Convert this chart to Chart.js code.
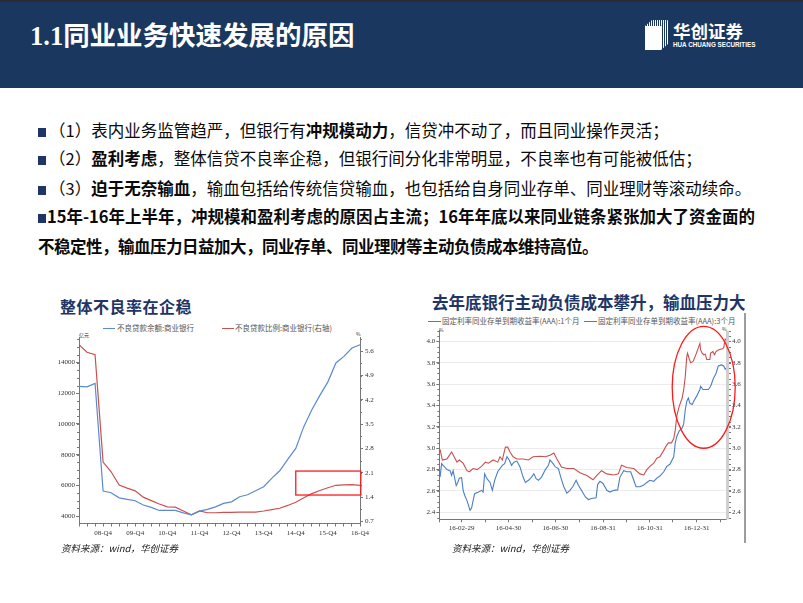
<!DOCTYPE html>
<html><head><meta charset="utf-8">
<script src="https://cdn.jsdelivr.net/npm/chart.js@4.4.1/dist/chart.umd.min.js"></script>
<style>
body{margin:0;width:803px;height:603px;position:relative;overflow:hidden;background:#fff;font-family:"Noto Sans CJK SC","Noto Sans",sans-serif;}
.t{position:absolute;white-space:nowrap;line-height:1;}
#hdr{position:absolute;left:0;top:0;width:803px;height:88px;background:#1a3760;}
#hdrTop{position:absolute;left:0;top:0;width:803px;height:2px;background:#2c2c34;}
.ln{position:absolute;left:38px;font-size:16.5px;line-height:16px;color:#0a0a0a;white-space:nowrap;}
.ln b{font-weight:700;}
.sq{display:inline-block;width:8px;height:9px;background:#1f3566;margin-right:3px;vertical-align:0px;}
.ctitle{position:absolute;font-size:16px;font-weight:700;color:#1f3566;white-space:nowrap;line-height:1;}
.lg{position:absolute;font-size:7.5px;color:#555;white-space:nowrap;line-height:1;}
.lgl{position:absolute;height:1px;}
.src{position:absolute;font-size:9.5px;font-style:italic;color:#1a1a1a;white-space:nowrap;line-height:1;}
.box{position:absolute;}
</style></head>
<body>
<div id="hdr"></div><div id="hdrTop"></div>
<div class="t" style="left:30px;top:21px;font-size:26.5px;font-weight:700;color:#fff;"><span style="font-family:'Liberation Serif',serif;">1.1</span>同业业务快速发展的原因</div>
<svg class="box" style="left:645px;top:20px" width="26" height="31" viewBox="0 0 26 31">
  <defs><pattern id="st" width="2" height="2" patternUnits="userSpaceOnUse"><rect width="1" height="2" fill="#fff"/></pattern></defs>
  <polygon points="0,6 7,0 23,0 16,6" fill="url(#st)"/>
  <polygon points="16,6 23,0 23,24 16,30" fill="url(#st)"/>
  <rect x="0" y="6" width="16" height="24" fill="#fff"/>
  <rect x="3" y="9" width="10" height="18" fill="url(#st)"/>
</svg>
<div class="t" style="left:673px;top:22px;font-size:17.5px;font-weight:700;color:#fff;">华创证券</div>
<div class="t" style="left:673px;top:42px;font-size:6.3px;font-weight:700;color:#fff;font-family:'Liberation Sans',sans-serif;">HUA CHUANG SECURITIES</div>

<div class="ln" style="top:122px"><span class="sq"></span>（1）表内业务监管趋严，但银行有<b>冲规模动力</b>，信贷冲不动了，而且同业操作灵活；</div>
<div class="ln" style="top:150px"><span class="sq"></span>（2）<b>盈利考虑</b>，整体信贷不良率企稳，但银行间分化非常明显，不良率也有可能被低估；</div>
<div class="ln" style="top:180px"><span class="sq"></span>（3）<b>迫于无奈输血</b>，输血包括给传统信贷输血，也包括给自身同业存单、同业理财等滚动续命。</div>
<div class="ln" style="top:208px;font-weight:700"><span class="sq" style="margin-right:1px"></span>15年-16年上半年，冲规模和盈利考虑的原因占主流；16年年底以来同业链条紧张加大了资金面的</div>
<div class="ln" style="top:238px;font-weight:700;letter-spacing:-0.5px">不稳定性，输血压力日益加大，同业存单、同业理财等主动负债成本维持高位。</div>

<div class="ctitle" style="left:60px;top:298px;letter-spacing:0.5px">整体不良率在企稳</div>
<div class="ctitle" style="left:432px;top:294px;font-size:16.5px">去年底银行主动负债成本攀升，输血压力大</div>

<div class="lgl" style="left:103px;top:328px;width:12px;background:#5a8ad0"></div>
<div class="lg" style="left:117px;top:324px">不良贷款余额:商业银行</div>
<div class="lgl" style="left:222px;top:328px;width:12px;background:#cc5050"></div>
<div class="lg" style="left:235px;top:324px">不良贷款比例:商业银行(右轴)</div>
<div class="lg" style="left:79px;top:332px;font-size:5px;color:#333">亿元</div>
<div class="lg" style="left:356px;top:331px;font-size:5px;color:#333">%</div>

<div class="lgl" style="left:428px;top:321px;width:13px;background:#4a7ec4"></div>
<div class="lg" style="left:442px;top:317px">固定利率同业存单到期收益率(AAA):1个月</div>
<div class="lgl" style="left:584px;top:321px;width:13px;background:#c8504d"></div>
<div class="lg" style="left:598px;top:317px">固定利率同业存单到期收益率(AAA):3个月</div>
<div class="lg" style="left:439px;top:327px;font-size:5px;color:#333">%</div>
<div class="lg" style="left:722px;top:326px;font-size:5px;color:#333">%</div>
<div class="box" style="left:744px;top:313px;width:2px;height:230px;background:#9c9c9c"></div>

<div class="box" style="left:40px;top:330px;width:345px;height:230px"><canvas id="c1"></canvas></div>
<div class="box" style="left:405px;top:325px;width:345px;height:235px"><canvas id="c2"></canvas></div>

<div class="src" style="left:61px;top:544px">资料来源：wind，华创证券</div>
<div class="src" style="left:452px;top:544px">资料来源：wind，华创证券</div>

<script>
// ---------- Left chart data ----------
const QUARTERS = ['08-Q1','08-Q2','08-Q3','08-Q4','09-Q1','09-Q2','09-Q3','09-Q4','10-Q1','10-Q2','10-Q3','10-Q4',
  '11-Q1','11-Q2','11-Q3','11-Q4','12-Q1','12-Q2','12-Q3','12-Q4','13-Q1','13-Q2','13-Q3','13-Q4',
  '14-Q1','14-Q2','14-Q3','14-Q4','15-Q1','15-Q2','15-Q3','15-Q4','16-Q1','16-Q2','16-Q3','16-Q4'];
const NPL_BALANCE = [12450,12420,12640,5630, 5520,5190,5090,5000, 4720,4570,4370,4370,
  4370,4215,4085,4325, 4435,4605,4830,4930, 5260,5390,5650,5910,
  6460,6950,7700,8410, 9825,10920,11860,12740, 13970,14400,14945,15160];
const NPL_RATIO = [5.79,5.57,5.50,2.41, 2.13,1.75,1.66,1.58, 1.40,1.30,1.20,1.12,
  1.11,1.00,0.89,1.00, 0.95,0.95,0.96,0.96, 0.97,0.97,0.97,1.00,
  1.04,1.08,1.16,1.25, 1.38,1.50,1.59,1.67, 1.74,1.75,1.76,1.74];
const SHOWN_QUARTERS = ['08-Q4','09-Q4','10-Q4','11-Q4','12-Q4','13-Q4','14-Q4','15-Q4','16-Q4'];
const BALANCE_TICKS = [4000,6000,8000,10000,12000,14000];
const RATIO_TICKS = [0.7,1.4,2.1,2.8,3.5,4.2,4.9,5.6];

// ---------- Right chart data ----------
const RATE_1M_DATES = ['16-02-01','16-02-03','16-02-05','16-02-10','16-02-14','16-02-16','16-02-18','16-02-22','16-02-24','16-02-26',
 '16-02-29','16-03-02','16-03-04','16-03-07','16-03-09','16-03-11','16-03-13','16-03-15','16-03-17','16-03-22',
 '16-03-26','16-03-28','16-03-30','16-04-02','16-04-06','16-04-09','16-04-12','16-04-16','16-04-19','16-04-22',
 '16-04-25','16-04-28','16-05-01','16-05-04','16-05-07','16-05-11','16-05-15','16-05-19','16-05-22','16-05-26',
 '16-05-30','16-06-02','16-06-05','16-06-08','16-06-12','16-06-17','16-06-21','16-06-23','16-06-27','16-06-30',
 '16-07-04','16-07-07','16-07-11','16-07-15','16-07-19','16-07-23','16-07-27','16-07-30','16-08-03','16-08-08',
 '16-08-12','16-08-16','16-08-22','16-08-24','16-08-27','16-08-31','16-09-05','16-09-09','16-09-14','16-09-19',
 '16-09-22','16-09-27','16-10-01','16-10-06','16-10-10','16-10-13','16-10-18','16-10-23','16-10-27','16-10-31',
 '16-11-05','16-11-09','16-11-13','16-11-18','16-11-22','16-11-26','16-12-01','16-12-03','16-12-05','16-12-08',
 '16-12-12','16-12-14','16-12-16','16-12-18','16-12-20','16-12-22','16-12-25','16-12-27','16-12-31','17-01-04',
 '17-01-05','17-01-08','17-01-11','17-01-15','17-01-18','17-01-22','17-01-25','17-01-28','17-02-01','17-02-04',
 '17-02-06','17-02-07'];
const RATE_1M = [2.73,2.856,2.84,2.80,2.79,2.745,2.79,2.65,2.68,2.72,
 2.725,2.606,2.56,2.51,2.465,2.42,2.44,2.51,2.575,2.59,
 2.606,2.59,2.76,2.715,2.68,2.606,2.70,2.78,2.81,2.84,
 2.856,2.92,2.89,2.84,2.87,2.88,2.825,2.73,2.68,2.70,
 2.73,2.76,2.715,2.70,2.73,2.80,2.84,2.89,2.856,2.825,
 2.81,2.73,2.64,2.58,2.606,2.644,2.70,2.653,2.606,2.544,
 2.52,2.53,2.537,2.66,2.69,2.67,2.606,2.59,2.606,2.61,
 2.73,2.79,2.78,2.78,2.70,2.64,2.64,2.656,2.68,2.70,
 2.69,2.72,2.74,2.78,2.83,2.85,2.92,3.05,3.11,3.16,
 3.19,3.23,3.36,3.44,3.47,3.42,3.41,3.44,3.49,3.55,
 3.58,3.55,3.55,3.55,3.58,3.66,3.70,3.77,3.78,3.77,
 3.74,3.75];
const RATE_3M_DATES = ['16-02-01','16-02-04','16-02-10','16-02-16','16-02-23','16-02-26','16-03-02','16-03-07','16-03-10','16-03-15',
 '16-03-20','16-03-26','16-03-31','16-04-04','16-04-10','16-04-16','16-04-19','16-04-22','16-04-26','16-04-29',
 '16-05-02','16-05-06','16-05-11','16-05-19','16-05-26','16-06-01','16-06-10','16-06-17','16-06-23','16-06-28',
 '16-07-02','16-07-08','16-07-15','16-07-24','16-08-01','16-08-10','16-08-18','16-08-23','16-08-29','16-09-05',
 '16-09-14','16-09-20','16-09-24','16-10-01','16-10-10','16-10-18','16-10-23','16-10-27','16-10-31','16-11-05',
 '16-11-09','16-11-13','16-11-18','16-11-21','16-11-24','16-11-28','16-12-01','16-12-03','16-12-05','16-12-08',
 '16-12-12','16-12-14','16-12-16','16-12-18','16-12-19','16-12-21','16-12-23','16-12-26','16-12-29','17-01-01',
 '17-01-04','17-01-05','17-01-07','17-01-09','17-01-11','17-01-13','17-01-17','17-01-18','17-01-21','17-01-23',
 '17-01-25','17-01-28','17-02-02','17-02-04','17-02-06','17-02-07'];
const RATE_3M = [2.99,2.89,2.90,2.965,2.87,2.89,2.86,2.79,2.78,2.81,
 2.80,2.83,2.87,2.86,2.89,2.87,2.92,2.89,3.01,3.01,
 2.965,2.92,2.90,2.90,2.89,2.92,2.925,2.92,2.935,2.955,
 2.90,2.825,2.81,2.81,2.77,2.745,2.705,2.745,2.79,2.76,
 2.75,2.76,2.84,2.82,2.81,2.76,2.75,2.80,2.83,2.86,
 2.906,2.92,2.98,3.02,3.05,3.05,3.09,3.17,3.30,3.39,
 3.47,3.55,3.67,3.86,3.89,3.84,3.80,3.81,3.86,3.92,
 3.98,3.92,3.89,3.875,3.88,3.83,3.83,3.89,3.905,3.875,
 3.905,3.92,3.93,3.94,4.02,4.015];
const MONTH_END_TICKS = ['16-01-31','16-02-29','16-03-31','16-04-30','16-05-31','16-06-30','16-07-31','16-08-31','16-09-30','16-10-31','16-11-30','16-12-31','17-01-31'];
const LABELED_DATES = ['16-02-29','16-04-30','16-06-30','16-08-31','16-10-31','16-12-31'];
const RATE_TICKS = [2.4,2.6,2.8,3.0,3.2,3.4,3.6,3.8,4.0];
const RANGE_START = '16-01-31', RANGE_END = '17-02-07';

// ---------- helpers ----------
const BASE = Date.UTC(2016,0,31);
function dayOf(s){const p=s.split('-').map(Number);return Math.round((Date.UTC(2000+p[0],p[1]-1,p[2])-BASE)/864e5);}
const zip = (ds,vs)=>ds.map((d,i)=>({x:dayOf(d),y:vs[i]}));

Chart.defaults.animation = false;
Chart.defaults.font.family = "'Liberation Serif', serif";
Chart.defaults.font.size = 7;
Chart.defaults.color = '#333';

const minorTicks = {
  id:'minorTicks',
  afterDraw(chart, args, opts){
    const ctx = chart.ctx;
    (opts.axes||[]).forEach(a=>{
      const s = chart.scales[a.id]; if(!s) return;
      ctx.save(); ctx.strokeStyle = a.color||'#666'; ctx.lineWidth = 1; ctx.beginPath();
      const k0 = Math.ceil(s.min/a.step-1e-9), k1 = Math.floor(s.max/a.step+1e-9);
      for(let k=k0;k<=k1;k++){
        const v = k*a.step;
        const p = Math.round(s.getPixelForValue(v))+0.5;
        if(s.axis==='y'){
          const left = s.position==='left';
          const x = left ? s.right : s.left;
          ctx.moveTo(x,p); ctx.lineTo(x+(left?-a.len:a.len),p);
        }
      }
      ctx.stroke(); ctx.restore();
    });
  }
};
const shapes = {
  id:'shapes',
  afterDraw(chart, args, opts){
    const ctx = chart.ctx;
    (opts.items||[]).forEach(it=>{
      const xs = chart.scales[it.xScale], ys = chart.scales[it.yScale];
      ctx.save(); ctx.strokeStyle = it.color; ctx.lineWidth = it.width;
      if(it.type==='strip'){
        ctx.fillStyle = it.color;
        ctx.fillRect(chart.chartArea.right, chart.chartArea.top, it.w, chart.chartArea.bottom-chart.chartArea.top);
      } else if(it.type==='rect'){
        const x1=xs.getPixelForValue(it.x1), x2=xs.getPixelForValue(it.x2);
        const y1=ys.getPixelForValue(it.y1), y2=ys.getPixelForValue(it.y2);
        ctx.strokeRect(x1,y1,x2-x1,y2-y1);
      } else if(it.type==='ellipse'){
        const cx=xs.getPixelForValue(it.cx), cy=ys.getPixelForValue(it.cy);
        const rx=Math.abs(xs.getPixelForValue(it.cx+it.rx)-cx), ry=Math.abs(ys.getPixelForValue(it.cy+it.ry)-cy);
        ctx.beginPath(); ctx.ellipse(cx,cy,rx,ry,0,0,Math.PI*2); ctx.stroke();
      }
      ctx.restore();
    });
  }
};

// ---------- Left chart ----------
new Chart(document.getElementById('c1'), {
  type:'line',
  data:{labels:QUARTERS, datasets:[
    {label:'不良贷款余额:商业银行', data:NPL_BALANCE, yAxisID:'y', borderColor:'#5a8ad0', borderWidth:1.2, pointRadius:0, tension:0},
    {label:'不良贷款比例:商业银行(右轴)', data:NPL_RATIO, yAxisID:'y1', borderColor:'#cc5050', borderWidth:1.2, pointRadius:0, tension:0}
  ]},
  options:{
    responsive:true, maintainAspectRatio:false,
    layout:{padding:{top:7,left:0,right:0,bottom:0}},
    plugins:{legend:{display:false}, tooltip:{enabled:false},
      minorTicks:{axes:[{id:'y',step:500,len:2,color:'#777'},{id:'y1',step:0.35,len:2,color:'#777'}]},
      shapes:{items:[{type:'rect',xScale:'x',yScale:'y1',x1:27,x2:35.1,y1:2.15,y2:1.46,color:'#ff1a1a',width:1.3}]}
    },
    scales:{
      x:{offset:false, afterFit:s=>{s.height=36.5;},
        grid:{display:true, drawOnChartArea:false, drawTicks:true, tickLength:3, tickColor:'#777', offset:false},
        border:{display:true,color:'#777'},
        ticks:{autoSkip:false, maxRotation:0, padding:2, callback:function(v){const l=this.getLabelForValue(v);return SHOWN_QUARTERS.includes(l)?l:'';}}},
      y:{position:'left', min:3520, max:15660, afterFit:s=>{s.width=39;},
        afterBuildTicks:s=>{s.ticks=BALANCE_TICKS.map(v=>({value:v}));},
        grid:{drawOnChartArea:false, tickLength:3, tickColor:'#777'}, border:{color:'#777'},
        ticks:{padding:1, callback:v=>String(v)}},
      y1:{position:'right', min:0.64, max:6.01, afterFit:s=>{s.width=25;},
        afterBuildTicks:s=>{s.ticks=RATIO_TICKS.map(v=>({value:v}));},
        grid:{drawOnChartArea:false, tickLength:3, tickColor:'#777'}, border:{color:'#777'},
        ticks:{padding:2, callback:v=>Number(v).toFixed(1)}}
    }
  },
  plugins:[minorTicks, shapes]
});

// ---------- Right chart ----------
const tickDays = MONTH_END_TICKS.map(dayOf);
const labelMap = {}; LABELED_DATES.forEach(d=>{labelMap[dayOf(d)]=d;});
new Chart(document.getElementById('c2'), {
  type:'line',
  data:{datasets:[
    {label:'固定利率同业存单到期收益率(AAA):1个月', data:zip(RATE_1M_DATES,RATE_1M), yAxisID:'y', borderColor:'#4a7ec4', borderWidth:1.1, pointRadius:0, tension:0},
    {label:'固定利率同业存单到期收益率(AAA):3个月', data:zip(RATE_3M_DATES,RATE_3M), yAxisID:'y', borderColor:'#c8504d', borderWidth:1.1, pointRadius:0, tension:0}
  ]},
  options:{
    responsive:true, maintainAspectRatio:false,
    layout:{padding:{top:5.7,left:0,right:0,bottom:0}},
    plugins:{legend:{display:false}, tooltip:{enabled:false},
      minorTicks:{axes:[{id:'y',step:0.05,len:2,color:'#777'},{id:'y2',step:0.05,len:5,color:'#777'}]},
      shapes:{items:[
        {type:'strip',w:3,color:'#cfcfcf'},
        {type:'ellipse',xScale:'x',yScale:'y',cx:dayOf('17-01-09'),cy:3.57,rx:41,ry:0.57,color:'#ff1a1a',width:1.3}
      ]}
    },
    scales:{
      x:{type:'linear', min:dayOf(RANGE_START), max:dayOf(RANGE_END), afterFit:s=>{s.height=40.7;},
        afterBuildTicks:s=>{s.ticks=tickDays.map(v=>({value:v}));},
        grid:{drawOnChartArea:false, tickLength:3, tickColor:'#777'}, border:{color:'#777'},
        ticks:{autoSkip:false, maxRotation:0, padding:2, callback:v=>labelMap[v]||''}},
      y:{position:'left', min:2.335, max:4.10, afterFit:s=>{s.width=34.3;},
        afterBuildTicks:s=>{s.ticks=RATE_TICKS.map(v=>({value:v}));},
        grid:{color:'#ececec', tickLength:3, tickColor:'#777'}, border:{color:'#777'},
        ticks:{padding:1, callback:v=>Number(v).toFixed(1)}},
      y2:{position:'right', min:2.335, max:4.10, afterFit:s=>{s.width=24;},
        afterBuildTicks:s=>{s.ticks=RATE_TICKS.map(v=>({value:v}));},
        grid:{drawOnChartArea:false, tickLength:5, tickColor:'#777'}, border:{color:'#aaa'},
        ticks:{padding:1, callback:v=>Number(v).toFixed(1)}}
    }
  },
  plugins:[minorTicks, shapes]
});
</script>
</body></html>
